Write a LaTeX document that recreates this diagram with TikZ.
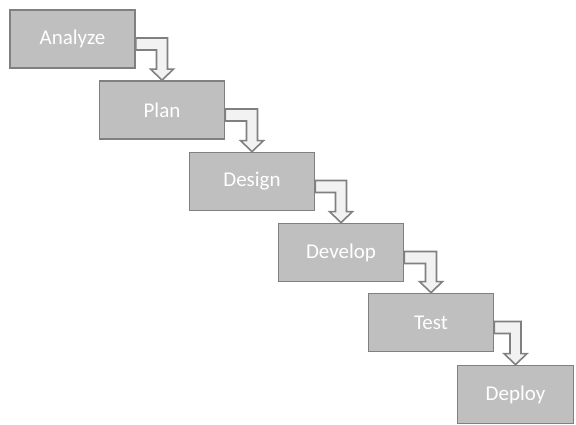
\documentclass[tikz,border=0pt]{standalone}
\usepackage{fontspec}
\setmainfont{Carlito}
\usetikzlibrary{calc}
\definecolor{boxfill}{HTML}{BFBFBF}
\definecolor{boxline}{HTML}{808080}
\definecolor{arrfill}{HTML}{F2F2F2}
\tikzset{
  stepbox/.style={draw=boxline, fill=boxfill, line width=1.8pt, rectangle,
    minimum width=125pt, minimum height=58pt, inner sep=0pt,
    text=white, font=\fontsize{21}{24}\selectfont},
  arr/.style={draw=boxline, fill=arrfill, line width=1.6pt, line join=miter}
}
\newcommand\bentarrow[2]{%
  \draw[arr] ($(#1.east)+(0,-1)$) -- ($(#1.east -| #2.north)+(5.5,-1)$)
    -- ($(#2.north)+(5.5,-11)$) -- ($(#2.north)+(11.5,-11)$) -- (#2.north)
    -- ($(#2.north)+(-11.5,-11)$) -- ($(#2.north)+(-5.5,-11)$)
    -- ($(#1.east -| #2.north)+(-5.5,11)$) -- ($(#1.east)+(0,11)$) -- cycle;}
\begin{document}
\begin{tikzpicture}[x=1pt,y=-1pt]
\useasboundingbox[fill=white] (0,0) rectangle (576,425);
\node[stepbox] (a) at (72.5,39) {Analyze};
\node[stepbox] (b) at (162,110) {Plan};
\node[stepbox] (c) at (252,181.5) {Design};
\node[stepbox] (d) at (341,252.5) {Develop};
\node[stepbox] (e) at (431,322.5) {Test};
\node[stepbox, minimum width=116pt] (f) at (515.5,394.5) {Deploy};
\bentarrow{a}{b}
\bentarrow{b}{c}
\bentarrow{c}{d}
\bentarrow{d}{e}
\bentarrow{e}{f}
\end{tikzpicture}
\end{document}
